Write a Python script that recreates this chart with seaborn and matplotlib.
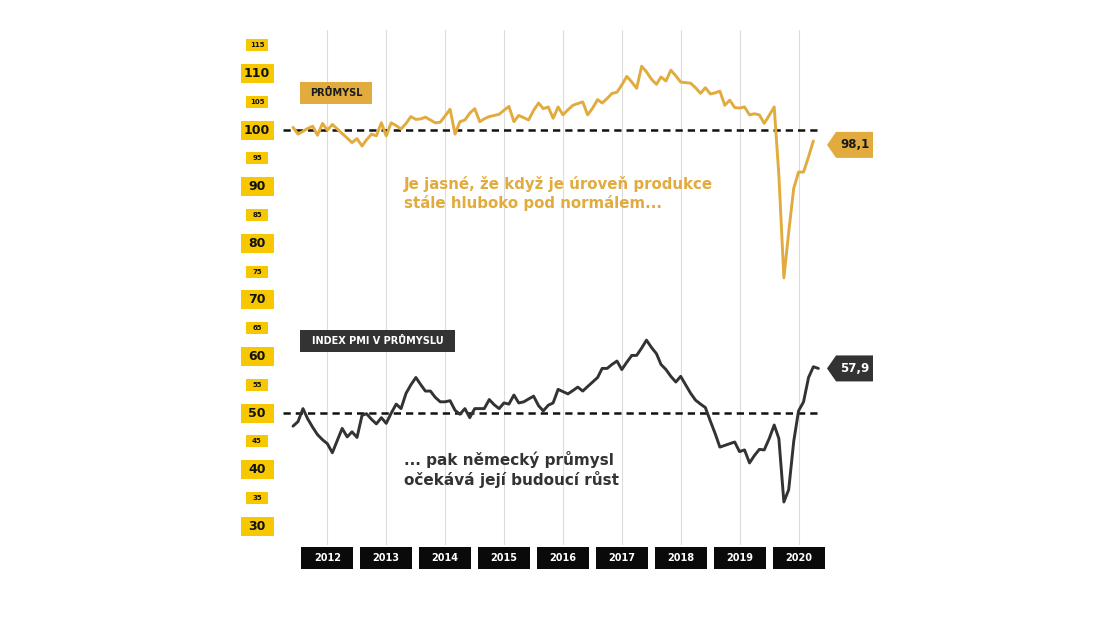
import pandas as pd
import seaborn as sns
import matplotlib.pyplot as plt
import matplotlib.dates as mdates
import matplotlib.transforms as mtransforms
from matplotlib.patches import Polygon

# monthly data, Dec 2011 onwards
prumysl = [
    100.5, 99.3, 99.8, 100.3, 100.7, 99.1, 101.2, 100.0, 101.0, 100.2,
    99.4, 98.6, 97.8, 98.5, 97.2, 98.3, 99.3, 99.0, 101.3, 99.0,
    101.3, 100.8, 100.2, 101.2, 102.4, 101.9, 102.0, 102.3, 101.8, 101.3,
    101.4, 102.5, 103.7, 99.3, 101.5, 101.8, 103.0, 103.8, 101.5, 102.0,
    102.4, 102.6, 102.8, 103.5, 104.2, 101.5, 102.6, 102.2, 101.8, 103.5,
    104.8, 103.8, 104.1, 102.1, 104.1, 102.7, 103.6, 104.4, 104.7, 105.0,
    102.7, 103.9, 105.4, 104.8, 105.6, 106.5, 106.7, 108.0, 109.5, 108.5,
    107.4, 111.3, 110.3, 109.0, 108.1, 109.4, 108.7, 110.6, 109.6, 108.5,
    108.4, 108.3, 107.5, 106.5, 107.5, 106.4, 106.6, 106.9, 104.4, 105.3,
    104.0, 103.9, 104.1, 102.7, 102.9, 102.7, 101.2, 102.6, 104.1, 92.0,
    73.9, 82.0, 89.7, 92.6, 92.6, 95.3, 98.1,
]
pmi = [
    47.7, 48.5, 50.8, 49.0, 47.5, 46.2, 45.3, 44.6, 43.0, 45.2,
    47.3, 45.8, 46.7, 45.7, 49.6, 49.9, 48.9, 48.1, 49.2, 48.2,
    50.0, 51.6, 50.8, 53.5, 55.0, 56.3, 55.0, 53.9, 53.9, 52.8,
    52.0, 52.0, 52.2, 50.5, 49.8, 50.8, 49.2, 50.8, 50.8, 50.8,
    52.4, 51.5, 50.8, 51.8, 51.6, 53.2, 51.8, 52.0, 52.5, 53.0,
    51.3, 50.4, 51.4, 51.8, 54.2, 53.8, 53.4, 54.0, 54.6, 53.9,
    54.7, 55.5, 56.3, 57.9, 57.9, 58.6, 59.2, 57.7, 59.0, 60.2,
    60.2, 61.5, 62.9, 61.6, 60.5, 58.6, 57.7, 56.5, 55.5, 56.5,
    55.0, 53.5, 52.3, 51.6, 51.0, 48.6, 46.3, 44.0, 44.3, 44.6,
    44.9, 43.2, 43.5, 41.2, 42.5, 43.6, 43.5, 45.5, 47.9, 45.5,
    34.3, 36.5, 45.0, 50.4, 52.0, 56.3, 58.2, 57.9,
]
months = pd.date_range('2011-12-01', periods=len(pmi), freq='MS')
years = list(range(2012, 2021))
major_ticks = [30, 40, 50, 60, 70, 80, 90, 100, 110]
minor_ticks = [35, 45, 55, 65, 75, 85, 95, 105, 115]
ref_lines = [100, 50]

GOLD = '#E2AB3D'
YELLOW = '#F7C700'
DARK = '#333333'

sns.set_theme(style='white')
plt.rcParams['font.family'] = ['DejaVu Sans']

fig = plt.figure(figsize=(11.1, 6.24), dpi=100)
W, H = 1110, 624
ax = fig.add_axes([283 / W, 1 - 545 / H, (820 - 283) / W, (545 - 30) / H])


def tag(x, y, text, w, h, fc, tc, fs, trans, pointed=False):
    """Box of fixed pixel size centred on (x, y) given in `trans`."""
    off = fig.dpi_scale_trans + mtransforms.ScaledTranslation(x, y, trans)
    w, h = w / fig.dpi, h / fig.dpi
    tip = h * 0.35 if pointed else 0
    pts = [(-w / 2, -h / 2), (-w / 2, h / 2), (w / 2, h / 2), (w / 2, -h / 2)]
    if pointed:
        pts = [(-w / 2, 0), (-w / 2 + tip, h / 2), (w / 2, h / 2),
               (w / 2, -h / 2), (-w / 2 + tip, -h / 2)]
    ax.add_artist(Polygon(pts, closed=True, transform=off, fc=fc, ec='none',
                          clip_on=False, zorder=5))
    ax.text(tip / 2, 0, text, transform=off, ha='center', va='center',
            color=tc, fontsize=fs, fontweight='bold', clip_on=False, zorder=6)


df_p = pd.DataFrame({'datum': months[:len(prumysl)], 'hodnota': prumysl})
df_m = pd.DataFrame({'datum': months, 'hodnota': pmi})

for v in ref_lines:
    ax.axhline(v, color='#111111', lw=1.8, dashes=(2.9, 2.0), zorder=2)

sns.lineplot(data=df_p, x='datum', y='hodnota', color=GOLD, lw=2.1, ax=ax, zorder=3)
sns.lineplot(data=df_m, x='datum', y='hodnota', color=DARK, lw=2.1, ax=ax, zorder=3)

year_pos = [pd.Timestamp(f'{y}-07-01') for y in years]
ax.set_xlim(pd.Timestamp('2011-09-30'), pd.Timestamp('2020-11-11'))
ax.set_ylim(26.7, 117.7)
ax.set_xlabel('')
ax.set_ylabel('')
ax.set_xticks(year_pos)
ax.set_xticklabels([])
ax.set_yticks([])
ax.grid(axis='x', color='#dcdcdc', lw=0.8)
ax.tick_params(length=0)
sns.despine(ax=ax, left=True, bottom=True)

# y labels in yellow boxes
ytrans = mtransforms.blended_transform_factory(ax.transAxes, ax.transData)
ylx = (257 - 283) / 537
for v in major_ticks:
    tag(ylx, v, str(v), 33, 19, YELLOW, '#111111', 9, ytrans)
for v in minor_ticks:
    tag(ylx, v, str(v), 22, 12, YELLOW, '#111111', 5, ytrans)

# year labels in black boxes
xtrans = mtransforms.blended_transform_factory(ax.transData, ax.transAxes)
for y, pos in zip(years, year_pos):
    tag(mdates.date2num(pos), -13 / 515, str(y), 52, 22, '#0a0a0a',
        'white', 7, xtrans)

# series labels
tag(0.0987, 0.878, 'PRŮMYSL', 72, 22, GOLD, '#1a1a1a', 7, ax.transAxes)
tag(0.176, 0.396, 'INDEX PMI V PRŮMYSLU', 155, 22, DARK, 'white', 7, ax.transAxes)

# value tags at the end of each line
vx = (850 - 283) / 537
tag(vx, prumysl[-1] - 0.7, f'{prumysl[-1]:.1f}'.replace('.', ','), 46, 26,
    GOLD, '#1a1a1a', 8.5, ytrans, pointed=True)
tag(vx, pmi[-1], f'{pmi[-1]:.1f}'.replace('.', ','), 46, 26,
    DARK, 'white', 8.5, ytrans, pointed=True)

# commentary
ax.text(0.2253, 0.7165, 'Je jasné, že když je úroveň produkce\nstále hluboko pod normálem...',
        transform=ax.transAxes, ha='left', va='top', color=GOLD, fontsize=10.8,
        fontweight='bold', linespacing=1.2)
ax.text(0.2253, 0.1825, '... pak německý průmysl\nočekává její budoucí růst',
        transform=ax.transAxes, ha='left', va='top', color=DARK, fontsize=11,
        fontweight='bold', linespacing=1.2)

fig.savefig('out.png', dpi=100, facecolor='white')
